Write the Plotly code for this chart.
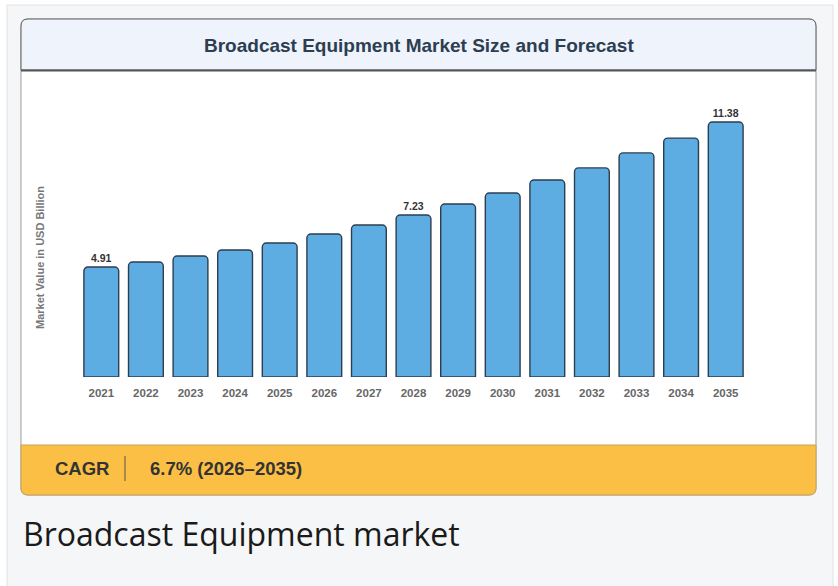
import plotly.graph_objects as go

years = ["2021", "2022", "2023", "2024", "2025", "2026", "2027", "2028",
         "2029", "2030", "2031", "2032", "2033", "2034", "2035"]
values = [4.91, 5.13, 5.40, 5.67, 5.98, 6.38, 6.78, 7.23,
          7.72, 8.21, 8.79, 9.33, 10.00, 10.66, 11.38]
labeled_years = ["2021", "2028", "2035"]

title_text = "Broadcast Equipment Market Size and Forecast"
y_title = "Market Value in USD Billion"
cagr_label = "CAGR"
cagr_value = "6.7% (2026\u20132035)"
caption = "Broadcast Equipment market"

W, H = 838, 586
L, R, T, B = 79, 90, 100, 209
pw, ph = W - L - R, H - T - B
PX_PER_UNIT = 22.41
ymax = ph / PX_PER_UNIT

def X(px):
    return (px - L) / pw

def Y(py):
    return (H - B - py) / ph

def rrect(x0, y0, x1, y1, r, tl=True, tr=True, br=True, bl=True):
    def P(px, py):
        return f"{X(px):.5f},{Y(py):.5f}"
    rtl = r if tl else 0
    rtr = r if tr else 0
    rbr = r if br else 0
    rbl = r if bl else 0
    s = f"M {P(x0 + rtl, y0)} L {P(x1 - rtr, y0)} "
    if rtr:
        s += f"Q {P(x1, y0)} {P(x1, y0 + rtr)} "
    s += f"L {P(x1, y1 - rbr)} "
    if rbr:
        s += f"Q {P(x1, y1)} {P(x1 - rbr, y1)} "
    s += f"L {P(x0 + rbl, y1)} "
    if rbl:
        s += f"Q {P(x0, y1)} {P(x0, y1 - rbl)} "
    s += f"L {P(x0, y0 + rtl)} "
    if rtl:
        s += f"Q {P(x0, y0)} {P(x0 + rtl, y0)} "
    s += "Z"
    return s

SANS = "Liberation Sans, Arial, Helvetica, sans-serif"

texts = [f"{v:.2f}" if yr in labeled_years else "" for yr, v in zip(years, values)]

fig = go.Figure(go.Bar(
    x=years, y=values,
    text=texts, textposition="outside", cliponaxis=False,
    textfont=dict(family=SANS, size=10.5, color="#333333", weight="bold"),
    marker=dict(color="#5dade2", line=dict(color="#2c3e50", width=1.4), cornerradius=4),
    hoverinfo="skip",
))

shapes = [
    # page background
    dict(type="rect", xref="paper", yref="paper", x0=X(7), x1=X(833), y0=Y(5), y1=Y(600),
         fillcolor="#f5f6f7", line=dict(color="#e2e2e2", width=1), layer="below"),
    # card
    dict(type="path", xref="paper", yref="paper", path=rrect(21, 19, 816, 495, 7),
         fillcolor="#ffffff", line=dict(color="#9a9a9a", width=1), layer="below"),
    # header
    dict(type="path", xref="paper", yref="paper", path=rrect(21.5, 19.5, 815.5, 70, 7, br=False, bl=False),
         fillcolor="#eef3fc", line=dict(width=0), layer="below"),
    dict(type="path", xref="paper", yref="paper", path=rrect(21, 19, 816, 70, 7, br=False, bl=False),
         fillcolor="rgba(0,0,0,0)", line=dict(color="#6b6b6b", width=1), layer="below"),
    dict(type="line", xref="paper", yref="paper", x0=X(21), x1=X(816), y0=Y(70.5), y1=Y(70.5),
         line=dict(color="#555555", width=2), layer="below"),
    # orange band
    dict(type="path", xref="paper", yref="paper", path=rrect(21, 445, 816, 495, 7, tl=False, tr=False),
         fillcolor="#fbbf45", line=dict(color="#c9a35a", width=1), layer="below"),
    dict(type="line", xref="paper", yref="paper", x0=X(125), x1=X(125), y0=Y(456), y1=Y(481),
         line=dict(color="#555555", width=1), layer="below"),
]

annotations = [
    dict(text=f"<b>{title_text}</b>", x=X(419), y=Y(45), xref="paper", yref="paper",
         xanchor="center", yanchor="middle", showarrow=False,
         font=dict(family=SANS, size=19, color="#2c3e50")),
    dict(text=f"<b>{y_title}</b>", x=X(40), y=Y(258), xref="paper", yref="paper",
         xanchor="center", yanchor="middle", showarrow=False, textangle=-90,
         font=dict(family=SANS, size=11, color="#777777")),
    dict(text=f"<b>{cagr_label}</b>", x=X(53), y=Y(468), xref="paper", yref="paper",
         xanchor="left", yanchor="middle", showarrow=False,
         font=dict(family=SANS, size=18.5, color="#333333")),
    dict(text=f"<b>{cagr_value}</b>", x=X(148), y=Y(468), xref="paper", yref="paper",
         xanchor="left", yanchor="middle", showarrow=False,
         font=dict(family=SANS, size=18.5, color="#333333")),
    dict(text=caption, x=X(21), y=Y(533), xref="paper", yref="paper",
         xanchor="left", yanchor="middle", showarrow=False,
         font=dict(family="Open Sans, sans-serif", size=32, color="#1a1a1a")),
]

fig.update_layout(
    width=W, height=H,
    margin=dict(l=L, r=R, t=T, b=B, pad=0),
    paper_bgcolor="#ffffff", plot_bgcolor="rgba(0,0,0,0)",
    bargap=0.22, showlegend=False,
    shapes=shapes, annotations=annotations,
    xaxis=dict(type="category", showgrid=False, showline=False, zeroline=False,
               ticks="outside", ticklen=5, tickcolor="rgba(0,0,0,0)",
               tickfont=dict(family=SANS, size=11.5, color="#666666", weight="bold"),
               fixedrange=True),
    yaxis=dict(range=[0, ymax], showgrid=False, showline=False, zeroline=False,
               showticklabels=False, fixedrange=True),
)

fig.write_html("out.html", config={"displayModeBar": False},
               post_script="document.body.style.margin='0';document.body.style.overflow='hidden';")
